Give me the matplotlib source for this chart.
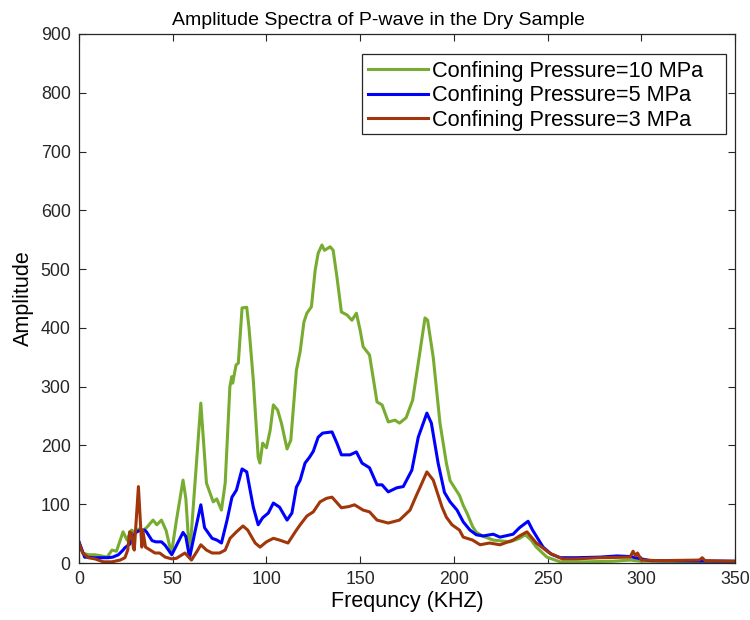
import matplotlib
matplotlib.use("Agg")
import matplotlib.pyplot as plt
from matplotlib.patches import Rectangle

plt.rcParams['font.family'] = ['Liberation Sans', 'DejaVu Sans']

title = "Amplitude Spectra of P-wave in the Dry Sample"
xlabel = "Frequncy (KHZ)"
ylabel = "Amplitude"
labels = ["Confining Pressure=10 MPa", "Confining Pressure=5 MPa", "Confining Pressure=3 MPa"]
colors = ["#77AC30", "#0000FF", "#A0360A"]

f_10 = [0, 2, 5, 8.5, 12, 15, 17.6, 20, 23.5, 25.6, 28, 30, 32, 34, 36, 39.5, 41.5, 44, 46.5, 48.5,
        49.5, 52, 55.5, 57, 59, 62, 65, 68, 71.6, 73.5, 76, 78, 80.5, 81.5, 82, 83.8, 85, 87, 89.5,
        90.7, 93, 95.6, 96.5, 98, 100, 102, 103.7, 106, 108, 111, 113, 116, 118, 120, 121.6, 124,
        126, 127.6, 129.6, 131, 134, 135.6, 137.6, 140, 143, 145.6, 148, 150, 151.6, 155, 159,
        161.7, 165, 168.6, 171, 174.5, 178, 181, 184.6, 186, 189, 192.6, 196, 198, 200, 203, 205,
        207, 210, 212, 216, 221, 230, 235, 238, 241, 244, 249.6, 256.7, 270, 285, 294, 300, 350]
a_10 = [35, 17, 14, 14, 12, 10, 22, 20, 53, 39, 56, 52, 58, 55, 60, 73, 65, 73, 55, 27,
        20, 73, 141, 110, 10, 141, 272, 136, 104, 109, 90, 136, 300, 317, 306, 337, 340, 434, 435,
        400, 311, 180, 170, 204, 196, 226, 269, 260, 238, 194, 209, 328, 360, 410, 425, 436,
        498, 527, 541, 532, 538, 532, 487, 427, 422, 413, 425, 396, 368, 354, 274,
        269, 240, 243, 238, 247, 277, 340, 417, 413, 350, 238, 170, 140, 130, 115, 98,
        85, 62, 52, 45, 39, 36, 42, 48, 40, 27, 10, 2, 2, 3, 5, 3, 2]

f_5 = [0, 3, 8, 11, 15.5, 18, 21, 23.5, 24.5, 27, 30, 32, 35, 36, 39, 41, 44, 46, 49.5, 52, 55.5,
       57, 59, 62, 65, 67, 71, 73.6, 76, 79, 81.6, 84, 87, 89.5, 91, 93, 95.6, 98, 101, 103.7, 107,
       111, 113.6, 116, 118, 120.6, 123, 125, 127.6, 130, 135, 137.6, 140, 144.6, 148, 151, 155,
       159, 161.7, 165, 169.6, 173, 177.6, 181, 185.6, 188, 191.6, 195, 198, 201.7, 205, 208.6,
       212, 215.6, 221, 224.6, 231.6, 235, 239.6, 242, 247.6, 252, 256.7, 265, 278, 287, 294, 300,
       305, 350]
a_5 = [36, 10, 9, 9, 9, 10, 14, 22, 26, 32, 51, 55, 56, 53, 38, 36, 36, 30, 14, 30, 52,
       45, 9, 55, 99, 60, 42, 39, 34, 73, 112, 124, 160, 155, 129, 95, 65, 77, 85, 102, 95,
       73, 85, 129, 141, 170, 180, 190, 214, 221, 223, 204, 184, 184, 189, 170, 162,
       133, 133, 121, 128, 130, 158, 214, 255, 238, 170, 120, 104, 90, 70, 56,
       48, 46, 49, 44, 49, 60, 71, 56, 27, 15, 9, 9, 10, 12, 11, 7,
       4, 3]

f_3 = [0, 2, 5, 8.5, 13, 17.6, 22, 24.5, 26, 27, 28, 29, 29.5, 31.7, 33.5, 34, 35.5, 38, 40.5, 43,
       46, 49.5, 52, 55, 56.5, 60, 63, 65, 68, 71, 75, 78, 80.6, 84, 87.5, 90, 94, 96.6, 100,
       103.7, 107, 111.5, 116, 118, 121.6, 125, 128.6, 132, 135, 140, 144, 147, 151.6, 155, 159,
       165, 171, 176.6, 180, 182, 185.6, 189, 193.7, 196, 199, 203, 205, 210, 214, 219, 224.6,
       231.6, 235, 239, 244, 251, 258, 265, 278, 294, 295.6, 297, 298, 300, 310, 331, 332.5, 334,
       350]
a_3 = [34, 17, 9, 7, 2, 2, 5, 9, 22, 53, 51, 26, 22, 130, 27, 56, 27, 22, 17, 17,
       10, 7, 8, 14, 17, 5, 20, 31, 22, 17, 17, 22, 42, 53, 63, 56, 34, 27, 36,
       42, 39, 34, 56, 65, 80, 87, 104, 110, 112, 94, 96, 99, 90, 87, 73,
       68, 73, 90, 115, 129, 155, 141, 95, 78, 65, 56, 44, 39, 31, 34, 31,
       39, 46, 53, 34, 17, 7, 7, 9, 10, 20, 12, 17, 5, 4, 5, 9, 4,
       3]

xticks = [0, 50, 100, 150, 200, 250, 300, 350]
yticks = [0, 100, 200, 300, 400, 500, 600, 700, 800, 900]

fig = plt.figure(figsize=(7.5, 6.2), dpi=100)
ax = fig.add_axes([79 / 750, 1 - 563 / 620, 656 / 750, 529 / 620])

for fx, ay, lab, col in zip([f_10, f_5, f_3], [a_10, a_5, a_3], labels, colors):
    ax.plot(fx, ay, color=col, lw=2.2, label=lab)

ax.set_xlim(0, 350)
ax.set_ylim(0, 900)
ax.set_xticks(xticks)
ax.set_yticks(yticks)
ax.tick_params(direction='in', top=True, right=True, length=5, width=0.8,
               labelsize=12.8, colors='#262626', pad=6)
for s in ax.spines.values():
    s.set_color('#262626')
    s.set_linewidth(0.9)

fig.text(378 / 750, 1 - 25 / 620, title, fontsize=14, color='black',
         ha='center', va='baseline')
ax.set_xlabel(xlabel, fontsize=15.5, labelpad=2)
ax.set_ylabel(ylabel, fontsize=15.5, labelpad=5)

leg = ax.legend(loc='upper left', bbox_to_anchor=(0.4405, 0.949), borderaxespad=0,
                fontsize=15.7, frameon=False, handlelength=2.75,
                handletextpad=0.18, labelspacing=0.15, borderpad=0)
box = Rectangle((0.4314, 0.811), 0.9863 - 0.4314, 0.962 - 0.811, transform=ax.transAxes,
                facecolor='white', edgecolor='#262626', lw=0.9, zorder=4)
ax.add_patch(box)
leg.set_zorder(5)

fig.savefig('out.png', dpi=100)
